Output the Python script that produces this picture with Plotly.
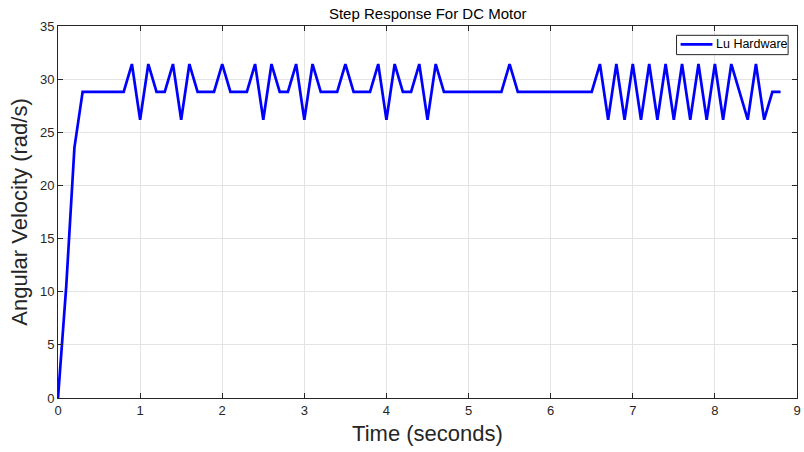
import plotly.graph_objects as go

q = 2.618  # encoder quantum (rad/s)
P, M, T = 12, 11, 10  # peak, middle, trough levels (multiples of q)

time = [round(i * 0.1, 1) for i in range(89)]
levels = ([0, 4, 9] + [M] * 6 +            # 0.0 - 0.8
          [P, T, P, M, M, P, T, P, M, M, M,  # 0.9 - 1.9
           P, M, M, M, P, T, P, M, M, P,     # 2.0 - 2.9
           T, P, M, M, M, P, M, M, M, P,     # 3.0 - 3.9
           T, P, M, M, P, T, P, M, M, M,     # 4.0 - 4.9
           M, M, M, M, M, P, M, M, M, M,     # 5.0 - 5.9
           M, M, M, M, M, M, P, T, P, T,     # 6.0 - 6.9
           P, T, P, T, P, T, P, T, P, T,     # 7.0 - 7.9
           P, T, P, M, T, P, T, M, M])       # 8.0 - 8.8
velocity = [round(l * q, 2) for l in levels]

x_ticks = list(range(0, 10))
y_ticks = list(range(0, 36, 5))
series_name = "Lu Hardware"
line_color = "#0000FF"

FONT = "Liberation Sans, Arial"
fig = go.Figure()
fig.add_trace(go.Scatter(x=time, y=velocity, mode="lines", name=series_name,
                         line=dict(color=line_color, width=2.7), showlegend=False))

axis_common = dict(showline=True, linecolor="#262626", linewidth=1, mirror="ticks",
                   ticks="inside", ticklen=5, tickcolor="#262626",
                   showgrid=True, gridcolor="#e3e3e3", gridwidth=1, zeroline=False,
                   ticklabeloverflow="allow",
                   tickfont=dict(family=FONT, size=13, color="#262626"))

# manual MATLAB-style legend box (domain coords of the plot area)
fig.add_shape(type="rect", xref="x domain", yref="y domain",
              x0=0.837, x1=0.988, y0=0.923, y1=0.975,
              line=dict(color="#262626", width=1), fillcolor="white", layer="above")
fig.add_shape(type="line", xref="x domain", yref="y domain",
              x0=0.8425, x1=0.8856, y0=0.9505, y1=0.9505,
              line=dict(color=line_color, width=2.7), layer="above")
fig.add_annotation(xref="x domain", yref="y domain", x=0.8875, y=0.9505,
                   xanchor="left", yanchor="middle", showarrow=False,
                   text=series_name, font=dict(family=FONT, size=12.5, color="black"))

fig.update_layout(
    width=804, height=452,
    margin=dict(l=58, r=3, t=26, b=54),
    paper_bgcolor="white", plot_bgcolor="white",
    title=dict(text="Step Response For DC Motor", x=0.532, xanchor="center", y=0.969, yanchor="middle",
               font=dict(family=FONT, size=15, color="black")),
    xaxis=dict(range=[0, 9], tickvals=x_ticks,
               title=dict(text="Time (seconds)", standoff=9,
                          font=dict(family=FONT, size=22, color="#262626")),
               **axis_common),
    yaxis=dict(range=[0, 35], tickvals=y_ticks,
               title=dict(text="Angular Velocity (rad/s)", standoff=6,
                          font=dict(family=FONT, size=22, color="#262626")),
               **axis_common),
    showlegend=False,
)

fig.write_html("out.html")
